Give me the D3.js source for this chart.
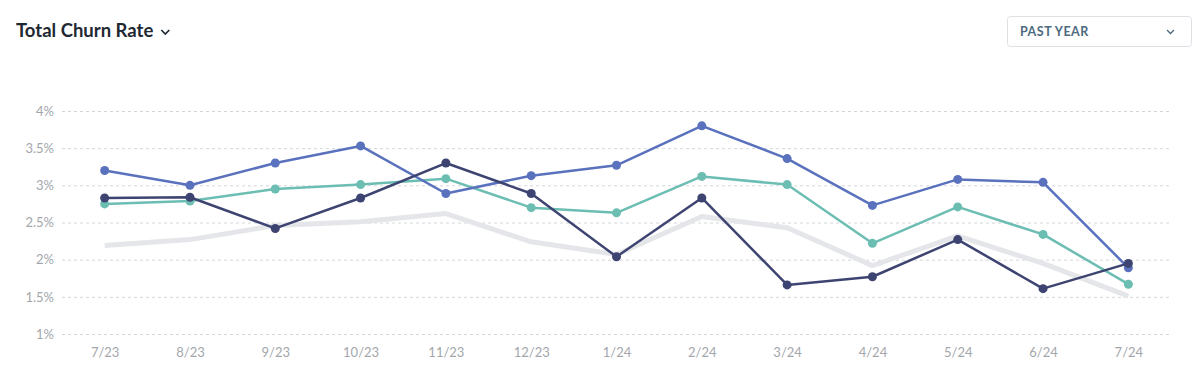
<!DOCTYPE html>
<html>
<head>
<meta charset="utf-8">
<script src="https://cdn.jsdelivr.net/npm/d3@7"></script>
<style>
  body { margin: 0; background: #fff; font-family: Lato, "Open Sans", sans-serif; }
  svg { display: block; }
</style>
</head>
<body>
<svg id="chart" width="1200" height="388"></svg>
<script>
// months along the x axis
var months = ['7/23', '8/23', '9/23', '10/23', '11/23', '12/23', '1/24', '2/24', '3/24', '4/24', '5/24', '6/24', '7/24'];

// churn rate in percent
var benchmark = [2.19, 2.27, 2.46, 2.51, 2.62, 2.24, 2.07, 2.58, 2.43, 1.92, 2.32, 1.95, 1.51];
var seriesBlue = [3.20, 3.00, 3.30, 3.53, 2.89, 3.13, 3.27, 3.80, 3.36, 2.73, 3.08, 3.04, 1.89];
var seriesTeal = [2.75, 2.79, 2.95, 3.01, 3.09, 2.70, 2.63, 3.12, 3.01, 2.22, 2.71, 2.34, 1.67];
var seriesNavy = [2.83, 2.84, 2.42, 2.83, 3.30, 2.89, 2.04, 2.83, 1.66, 1.77, 2.27, 1.61, 1.95];

var yTicks = [1, 1.5, 2, 2.5, 3, 3.5, 4];

var svg = d3.select('#chart');

var x = d3.scalePoint().domain(months).range([62, 1171]).padding(0.5);
var y = d3.scaleLinear().domain([1, 4]).range([334, 111]);

// title + dropdown
var title = svg.append('text')
    .attr('x', 16).attr('y', 37)
    .attr('font-size', 18.5).attr('font-weight', 700)
    .attr('fill', '#1f2933')
    .text('Total Churn Rate');
var tx = 16 + title.node().getComputedTextLength() + 8;
svg.append('path')
    .attr('d', 'M' + tx + ',30 l4,4 l4,-4')
    .attr('fill', 'none').attr('stroke', '#1f2933').attr('stroke-width', 1.7);

svg.append('rect')
    .attr('x', 1007.5).attr('y', 16.5).attr('width', 184).attr('height', 30).attr('rx', 3)
    .attr('fill', '#fff').attr('stroke', '#dde1e5');
svg.append('text')
    .attr('x', 1020).attr('y', 36)
    .attr('font-size', 12.5).attr('font-weight', 700)
    .attr('fill', '#4d6a7e').attr('letter-spacing', 0.5)
    .text('PAST YEAR');
svg.append('path')
    .attr('d', 'M1167,30 L1170.5,33.5 L1174,30')
    .attr('fill', 'none').attr('stroke', '#4d6a7e').attr('stroke-width', 1.3);

// gridlines and y labels
var yAxis = svg.append('g')
    .call(d3.axisLeft(y).tickValues(yTicks).tickSize(-1110).tickFormat(function (d) { return d + '%'; }))
    .attr('transform', 'translate(62,0)');
yAxis.select('.domain').remove();
yAxis.selectAll('.tick line')
    .attr('stroke', '#d3d6d9').attr('stroke-dasharray', '3,3');
yAxis.selectAll('.tick text')
    .attr('x', -8).attr('font-size', 13).attr('fill', '#a3a7ab')
    .attr('font-family', 'Lato, sans-serif');

// x labels
var xAxis = svg.append('g')
    .attr('transform', 'translate(0,334)')
    .call(d3.axisBottom(x).tickSize(0).tickPadding(14));
xAxis.select('.domain').remove();
xAxis.selectAll('.tick text')
    .attr('font-size', 13).attr('fill', '#a3a7ab')
    .attr('font-family', 'Lato, sans-serif');

var line = d3.line()
    .x(function (d, i) { return x(months[i]); })
    .y(function (d) { return y(d); });

// grey benchmark line, no dots
svg.append('path')
    .datum(benchmark)
    .attr('d', line)
    .attr('fill', 'none').attr('stroke', '#e5e6e9').attr('stroke-width', 5)
    .attr('stroke-linejoin', 'round');

function drawSeries(values, color) {
    var g = svg.append('g');
    g.append('path')
        .datum(values)
        .attr('d', line)
        .attr('fill', 'none').attr('stroke', color).attr('stroke-width', 2.5)
        .attr('stroke-linejoin', 'round');
    g.selectAll('circle')
        .data(values)
        .enter()
        .append('circle')
        .attr('cx', function (d, i) { return x(months[i]); })
        .attr('cy', function (d) { return y(d); })
        .attr('r', 4.5)
        .attr('fill', color);
}

drawSeries(seriesTeal, '#6cbdb2');
drawSeries(seriesBlue, '#5a71bd');
drawSeries(seriesNavy, '#3e4471');
</script>
</body>
</html>
